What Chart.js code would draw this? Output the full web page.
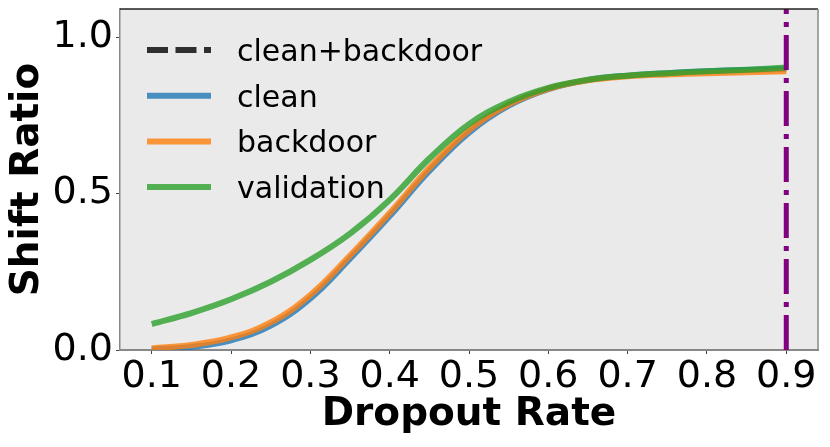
<!DOCTYPE html>
<html>
<head>
<meta charset="utf-8">
<script src="https://cdn.jsdelivr.net/npm/chart.js@4"></script>
<style>
  html, body { margin: 0; padding: 0; background: #ffffff; }
  #wrap { width: 830px; height: 447px; position: relative; }
</style>
</head>
<body>
<div id="wrap"><canvas id="c" width="830" height="447"></canvas></div>
<script>
// ---- data ----
const dropoutRates = [0.10,0.15,0.20,0.25,0.30,0.35,0.40,0.45,0.50,0.55,0.60,0.65,0.70,0.75,0.80,0.85,0.90];
const cleanRatio      = [0.002,0.010,0.031,0.078,0.165,0.292,0.428,0.572,0.695,0.781,0.834,0.863,0.877,0.885,0.891,0.895,0.898];
const backdoorRatio   = [0.005,0.016,0.040,0.088,0.176,0.302,0.438,0.582,0.703,0.785,0.835,0.862,0.875,0.881,0.885,0.888,0.891];
const validationRatio = [0.083,0.118,0.162,0.218,0.288,0.372,0.480,0.612,0.722,0.793,0.838,0.864,0.877,0.885,0.891,0.896,0.903];
// the combined curve is listed in the legend but not visible in the plot
const cleanBackdoorRatio = [0.003,0.013,0.035,0.083,0.170,0.297,0.433,0.577,0.699,0.783,0.834,0.862,0.876,0.883,0.888,0.891,0.894];
const selectedRate = 0.9;
const xTickValues = [0.1,0.2,0.3,0.4,0.5,0.6,0.7,0.8,0.9];
const yTickValues = [0.0,0.5,1.0];
const xMin = 0.06, xMax = 0.94, yMin = 0.0, yMax = 1.09;

const toPts = arr => arr.map((v, i) => ({x: dropoutRates[i], y: v}));
const FONT = "'DejaVu Sans', 'Liberation Sans', sans-serif";

const bgPlugin = {
  id: 'bg',
  beforeDraw(chart) {
    const {ctx, chartArea: a} = chart;
    ctx.save();
    ctx.fillStyle = '#EAEAEA';
    ctx.fillRect(a.left, a.top, a.right - a.left, a.bottom - a.top);
    ctx.restore();
  },
  afterDraw(chart) {
    const {ctx, chartArea: a} = chart;
    ctx.save();
    ctx.lineWidth = 1.5;
    ctx.strokeStyle = '#222222';
    ctx.beginPath(); ctx.moveTo(a.left, a.top); ctx.lineTo(a.right, a.top); ctx.stroke();
    ctx.strokeStyle = '#888888';
    ctx.beginPath(); ctx.moveTo(a.right, a.top); ctx.lineTo(a.right, a.bottom); ctx.stroke();
    ctx.restore();
  },
  afterDatasetsDraw(chart) {
    const {ctx, chartArea: a} = chart;
    const items = chart.data.datasets.filter(d => d.inLegend);
    ctx.save();
    items.forEach((d, i) => {
      const y = a.top + 41 + i * 45.7;
      ctx.beginPath();
      ctx.lineWidth = 6;
      ctx.strokeStyle = d.borderColor;
      ctx.setLineDash(d.borderDash || []);
      ctx.lineCap = 'butt';
      ctx.moveTo(a.left + 27, y);
      ctx.lineTo(a.left + 91, y);
      ctx.stroke();
      ctx.setLineDash([]);
      ctx.fillStyle = '#000000';
      ctx.font = '30px ' + FONT;
      ctx.textBaseline = 'alphabetic';
      ctx.textAlign = 'left';
      ctx.fillText(d.label, a.left + 117, y + 11);
    });
    ctx.restore();
  }
};

new Chart(document.getElementById('c'), {
  type: 'line',
  data: {
    datasets: [
      { label: 'vline', data: [{x: selectedRate, y: yMin}, {x: selectedRate, y: yMax}],
        borderColor: '#800080', borderWidth: 5, borderDash: [35, 8, 5, 8], pointRadius: 0, order: 0, inLegend: false, tension: 0 },
      { label: 'clean+backdoor', data: toPts(cleanBackdoorRatio), borderColor: 'rgba(0,0,0,0.8)', borderDash: [21, 7.5],
        borderWidth: 6, pointRadius: 0, order: 4, inLegend: true, tension: 0.4, hidden: true },
      { label: 'clean', data: toPts(cleanRatio), borderColor: 'rgba(31,119,180,0.8)',
        borderWidth: 6, pointRadius: 0, order: 3, inLegend: true, tension: 0.4 },
      { label: 'backdoor', data: toPts(backdoorRatio), borderColor: 'rgba(255,127,14,0.8)',
        borderWidth: 6, pointRadius: 0, order: 2, inLegend: true, tension: 0.4 },
      { label: 'validation', data: toPts(validationRatio), borderColor: 'rgba(44,160,44,0.8)',
        borderWidth: 6, pointRadius: 0, order: 1, inLegend: true, tension: 0.4 }
    ]
  },
  options: {
    responsive: false,
    animation: false,
    layout: { padding: { top: 9, right: 12, left: 0, bottom: 0 } },
    plugins: { legend: { display: false }, tooltip: { enabled: false } },
    scales: {
      x: {
        type: 'linear', min: xMin, max: xMax,
        afterBuildTicks: s => { s.ticks = xTickValues.map(v => ({value: v})); },
        afterFit: s => { s.height = 97; s.paddingLeft = 0; s.paddingRight = 0; },
        ticks: { callback: v => v.toFixed(1), color: '#000', font: { family: FONT, size: 38 }, padding: 0, maxRotation: 0, autoSkip: false },
        grid: { drawOnChartArea: false, tickLength: 4, color: '#444', tickWidth: 1 },
        border: { color: '#888888', width: 2 },
        title: { display: true, text: 'Dropout Rate', color: '#000', font: { family: FONT, size: 39, weight: 'bold' }, padding: { top: 0, bottom: 9 } }
      },
      y: {
        type: 'linear', min: yMin, max: yMax,
        afterBuildTicks: s => { s.ticks = yTickValues.map(v => ({value: v})); },
        afterFit: s => { s.width = 120; s.paddingTop = 0; s.paddingBottom = 0; },
        ticks: { callback: v => v.toFixed(1), color: '#000', font: { family: FONT, size: 38 }, padding: 3 },
        grid: { drawOnChartArea: false, tickLength: 4, color: '#444', tickWidth: 1 },
        border: { color: '#888888', width: 1.5 },
        title: { display: true, text: 'Shift Ratio', color: '#000', font: { family: FONT, size: 39, weight: 'bold' }, padding: { top: 4, bottom: 0 } }
      }
    }
  },
  plugins: [bgPlugin]
});
</script>
</body>
</html>
